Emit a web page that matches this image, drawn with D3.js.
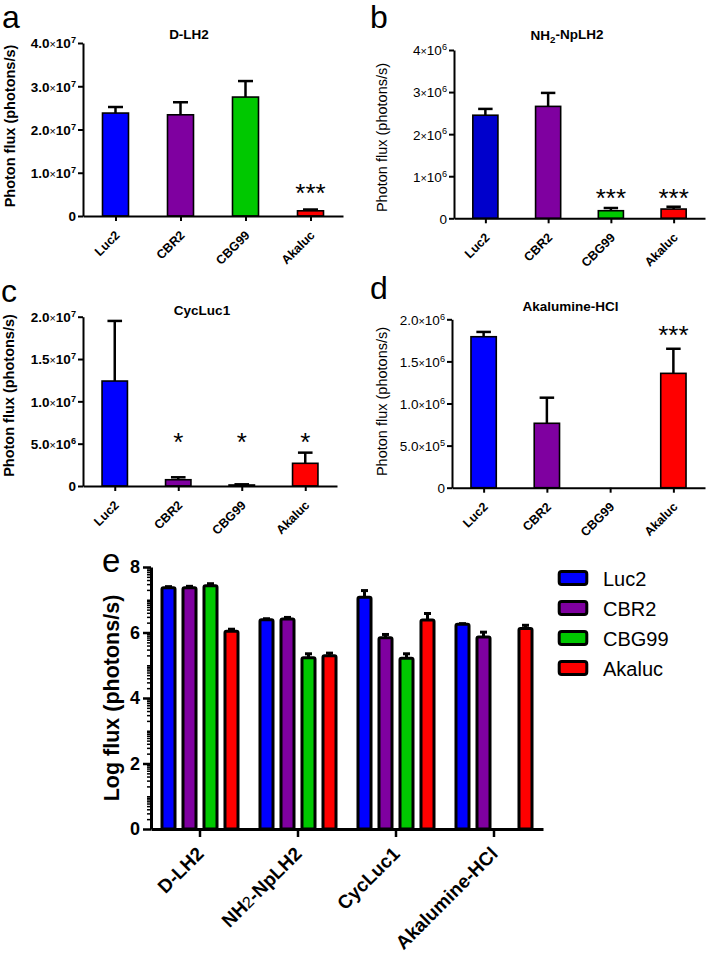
<!DOCTYPE html>
<html><head><meta charset="utf-8">
<script src="https://cdn.jsdelivr.net/npm/d3@7"></script>
<style>
body{margin:0;background:#fff}
svg{display:block}
text{font-family:"Liberation Sans", Arial, Helvetica, sans-serif; fill:#000}
</style>
</head><body>
<svg id="chart" width="709" height="956"></svg>
<script>
// ---------------- DATA ----------------
const categories = ["Luc2", "CBR2", "CBG99", "Akaluc"];

// Panel a: D-LH2
const dlh2Values = [2.38e7, 2.34e7, 2.75e7, 0.12e7];
const dlh2Errors = [0.14e7, 0.29e7, 0.37e7, 0.03e7];
const dlh2Stars = ["", "", "", "***"];
const dlh2StarLevel = 0.65e7;
const dlh2Ticks = [0, 1e7, 2e7, 3e7, 4e7];
const dlh2TickLabels = ["0", "1.0×10^7", "2.0×10^7", "3.0×10^7", "4.0×10^7"];

// Panel b: NH2-NpLH2
const nplh2Values = [2.45e6, 2.66e6, 0.18e6, 0.22e6];
const nplh2Errors = [0.15e6, 0.32e6, 0.065e6, 0.055e6];
const nplh2Stars = ["", "", "***", "***"];
const nplh2StarLevel = 0.6e6;
const nplh2Ticks = [0, 1e6, 2e6, 3e6, 4e6];
const nplh2TickLabels = ["0", "1×10^6", "2×10^6", "3×10^6", "4×10^6"];

// Panel c: CycLuc1
const cycValues = [12.4e6, 0.74e6, 0.12e6, 2.68e6];
const cycErrors = [7.1e6, 0.29e6, 0.08e6, 1.26e6];
const cycStars = ["", "*", "*", "*"];
const cycStarLevel = 5.83e6;
const cycTicks = [0, 5e6, 1e7, 1.5e7, 2e7];
const cycTickLabels = ["0", "5.0×10^6", "1.0×10^7", "1.5×10^7", "2.0×10^7"];

// Panel d: Akalumine-HCl
const akaValues = [1.793e6, 0.765e6, 0, 1.358e6];
const akaErrors = [0.057e6, 0.304e6, 0, 0.292e6];
const akaStars = ["", "", "", "***"];
const akaStarLevel = 1.873e6;
const akaTicks = [0, 5e5, 1e6, 1.5e6, 2e6];
const akaTickLabels = ["0", "5.0×10^5", "1.0×10^6", "1.5×10^6", "2.0×10^6"];

// Panel e: log flux
const substrates = ["D-LH2", "NH2-NpLH2", "CycLuc1", "Akalumine-HCl"];
const logLuc2 = [7.37, 6.39, 7.08, 6.25];
const logLuc2Err = [0.03, 0.03, 0.2, 0.02];
const logCBR2 = [7.37, 6.41, 5.84, 5.86];
const logCBR2Err = [0.04, 0.05, 0.1, 0.15];
const logCBG99 = [7.43, 5.23, 5.21, null];
const logCBG99Err = [0.06, 0.12, 0.14, null];
const logAkaluc = [6.04, 5.29, 6.38, 6.12];
const logAkalucErr = [0.06, 0.08, 0.2, 0.1];
const logTicks = [0, 2, 4, 6, 8];

// ---------------- STYLE ----------------
const colorMap = {Luc2: "#0000ff", CBR2: "#7f00a0", CBG99: "#00c800", Akaluc: "#ff0000"};
const svg = d3.select("#chart");

function addTickLabel(sel, str) {
  const parts = str.split("^");
  if (parts.length === 1) { sel.text(str); return; }
  const [mant, rest] = parts[0].split("×");
  sel.append("tspan").text(mant);
  sel.append("tspan").attr("font-size", "0.8em").attr("font-weight", "normal").text("×");
  sel.append("tspan").text(rest);
  sel.append("tspan").attr("font-size", "0.68em").attr("dy", "-0.55em").text(parts[1]);
}

function drawPanel(cfg) {
  const g = svg.append("g");
  const x = d3.scalePoint().domain(categories).range([cfg.x0, cfg.x1]).padding(0.5);
  const y = d3.scaleLinear().domain([0, cfg.yMax]).range([cfg.y0, cfg.yTop]);
  const bw = x.step() * 0.4;
  const capW = x.step() * 0.23;
  const rows = categories.map((c, i) => ({c, v: cfg.values[i], e: cfg.errors[i], s: cfg.stars[i]}));
  const colors = Object.assign({}, colorMap, cfg.colorOverride || {});

  // error bars
  g.selectAll("line.err").data(rows.filter(d => d.v > 0)).join("line")
    .attr("x1", d => x(d.c)).attr("x2", d => x(d.c))
    .attr("y1", d => y(d.v)).attr("y2", d => y(d.v + d.e))
    .attr("stroke", "#000").attr("stroke-width", 2.5);
  g.selectAll("line.cap").data(rows.filter(d => d.v > 0)).join("line")
    .attr("x1", d => x(d.c) - capW / 2).attr("x2", d => x(d.c) + capW / 2)
    .attr("y1", d => y(d.v + d.e)).attr("y2", d => y(d.v + d.e))
    .attr("stroke", "#000").attr("stroke-width", 2.5);
  // bars
  g.selectAll("rect.bar").data(rows.filter(d => d.v > 0)).join("rect")
    .attr("x", d => x(d.c) - bw / 2).attr("width", bw)
    .attr("y", d => y(d.v)).attr("height", d => y(0) - y(d.v))
    .attr("fill", d => colors[d.c]).attr("stroke", "#000").attr("stroke-width", 1.6);

  // axes
  const ya = g.append("g").attr("transform", `translate(${cfg.x0},0)`)
    .call(d3.axisLeft(y).tickValues(cfg.ticks).tickSize(5).tickSizeOuter(0).tickFormat(() => ""));
  ya.select(".domain").attr("stroke-width", 2);
  ya.selectAll(".tick line").attr("stroke-width", 2);
  ya.selectAll(".tick").each(function(d, i) {
    const t = d3.select(this).append("text")
      .attr("x", -7).attr("dy", "0.36em").attr("text-anchor", "end")
      .attr("font-size", 13.5).attr("font-weight", cfg.tickBold ? "bold" : "normal")
      .attr("fill", "#000");
    addTickLabel(t, cfg.tickLabels[i]);
  });
  const xa = g.append("g").attr("transform", `translate(0,${cfg.y0})`)
    .call(d3.axisBottom(x).tickSize(5).tickSizeOuter(0).tickFormat(() => ""));
  xa.select(".domain").attr("stroke-width", 2);
  xa.selectAll(".tick line").attr("stroke-width", 2);

  // x labels
  g.selectAll("text.xl").data(categories).join("text")
    .attr("transform", d => `translate(${x(d) + 5},${cfg.y0 + 20}) rotate(-45)`)
    .attr("text-anchor", "end").attr("font-size", 12.5).attr("font-weight", "bold")
    .text(d => d);

  // stars
  g.selectAll("text.star").data(rows.filter(d => d.s)).join("text")
    .attr("x", d => x(d.c)).attr("y", y(cfg.starLevel) + 14)
    .attr("text-anchor", "middle").attr("font-size", 26)
    .text(d => d.s);

  // y title
  g.append("text")
    .attr("transform", `translate(${cfg.labelX},${cfg.labelY}) rotate(-90)`)
    .attr("text-anchor", "middle").attr("dominant-baseline", "central")
    .attr("font-size", 14.5).attr("font-weight", cfg.labelBold ? "bold" : "normal")
    .text("Photon flux (photons/s)");

  // title
  const tt = g.append("text").attr("x", cfg.titleX).attr("y", cfg.titleY)
    .attr("text-anchor", "middle").attr("font-size", 13.5).attr("font-weight", "bold");
  if (cfg.titleParts) {
    cfg.titleParts.forEach(p => {
      const ts = tt.append("tspan").text(p.t);
      if (p.sub) ts.attr("font-size", "0.72em").attr("dy", "0.3em");
      if (p.after) ts.attr("dy", "-0.3em");
    });
  } else tt.text(cfg.title);

  // panel letter
  g.append("text").attr("x", cfg.letterX).attr("y", cfg.letterY)
    .attr("font-size", 32).text(cfg.letter);
}

drawPanel({letter: "a", letterX: 2, letterY: 28, title: "D-LH2", titleX: 189, titleY: 39,
  x0: 83, x1: 343, y0: 216, yTop: 43, yMax: 4e7,
  values: dlh2Values, errors: dlh2Errors, stars: dlh2Stars, starLevel: dlh2StarLevel,
  ticks: dlh2Ticks, tickLabels: dlh2TickLabels, tickBold: true, labelX: 10, labelY: 126, labelBold: true});

drawPanel({letter: "b", letterX: 370, letterY: 28,
  titleParts: [{t: "NH"}, {t: "2", sub: true}, {t: "-NpLH2", after: true}], titleX: 567, titleY: 40,
  x0: 454, x1: 705, y0: 218.3, yTop: 50, yMax: 4e6,
  values: nplh2Values, errors: nplh2Errors, stars: nplh2Stars, starLevel: nplh2StarLevel,
  ticks: nplh2Ticks, tickLabels: nplh2TickLabels, tickBold: false, labelX: 381.5, labelY: 137.5, labelBold: false,
  colorOverride: {Luc2: "#0000cc"}});

drawPanel({letter: "c", letterX: 1, letterY: 302, title: "CycLuc1", titleX: 202, titleY: 315,
  x0: 83, x1: 337, y0: 486, yTop: 316.7, yMax: 2e7,
  values: cycValues, errors: cycErrors, stars: cycStars, starLevel: cycStarLevel,
  ticks: cycTicks, tickLabels: cycTickLabels, tickBold: true, labelX: 9, labelY: 395.5, labelBold: true});

drawPanel({letter: "d", letterX: 370, letterY: 299, title: "Akalumine-HCl", titleX: 570.5, titleY: 311,
  x0: 452, x1: 705, y0: 487.7, yTop: 319.3, yMax: 2e6,
  values: akaValues, errors: akaErrors, stars: akaStars, starLevel: akaStarLevel,
  ticks: akaTicks, tickLabels: akaTickLabels, tickBold: false, labelX: 381.5, labelY: 401.5, labelBold: false});

// ---------------- PANEL e ----------------
(function() {
  const g = svg.append("g");
  const X0 = 151, X1 = 543, Y0 = 829, YT = 567;
  const xg = d3.scaleBand().domain(substrates).range([X0, X1]);
  const xs = d3.scaleBand().domain(categories).range([-42, 42]).paddingInner(0.38).paddingOuter(0.19);
  const y = d3.scaleLinear().domain([0, 8]).range([Y0, YT]);
  const series = {Luc2: [logLuc2, logLuc2Err], CBR2: [logCBR2, logCBR2Err], CBG99: [logCBG99, logCBG99Err], Akaluc: [logAkaluc, logAkalucErr]};
  const rows = [];
  substrates.forEach((s, i) => categories.forEach(c => {
    const v = series[c][0][i];
    if (v != null) rows.push({s, c, v, e: series[c][1][i]});
  }));
  const cx = d => xg(d.s) + xg.bandwidth() / 2 + xs(d.c) + xs.bandwidth() / 2;

  g.selectAll("line.err").data(rows).join("line")
    .attr("x1", cx).attr("x2", cx).attr("y1", d => y(d.v)).attr("y2", d => y(d.v + d.e))
    .attr("stroke", "#000").attr("stroke-width", 3);
  g.selectAll("line.cap").data(rows).join("line")
    .attr("x1", d => cx(d) - 3.5).attr("x2", d => cx(d) + 3.5)
    .attr("y1", d => y(d.v + d.e)).attr("y2", d => y(d.v + d.e))
    .attr("stroke", "#000").attr("stroke-width", 3);
  g.selectAll("rect.bar").data(rows).join("rect")
    .attr("x", d => cx(d) - xs.bandwidth() / 2).attr("width", xs.bandwidth())
    .attr("y", d => y(d.v)).attr("height", d => Y0 - y(d.v))
    .attr("rx", 1.5)
    .attr("fill", d => colorMap[d.c]).attr("stroke", "#000").attr("stroke-width", 3)
    .attr("stroke-linejoin", "round");

  // minor log ticks
  const minor = [];
  for (let n = 0; n < 8; n++) for (let k = 2; k <= 10; k++) {
    const t = n + Math.log10(k);
    if (Math.abs(t - Math.round(t)) < 1e-9 && Math.round(t) % 2 === 0) continue;
    minor.push(t);
  }
  const ym = g.append("g").attr("transform", `translate(${X0},0)`)
    .call(d3.axisLeft(y).tickValues(minor).tickSize(4).tickSizeOuter(0).tickFormat(() => ""));
  ym.select(".domain").remove();
  ym.selectAll(".tick line").attr("stroke-width", 1.5);

  const ya = g.append("g").attr("transform", `translate(${X0},0)`)
    .call(d3.axisLeft(y).tickValues(logTicks).tickSize(8).tickSizeOuter(0).tickFormat(d3.format("d")));
  ya.select(".domain").attr("stroke-width", 3);
  ya.selectAll(".tick line").attr("stroke-width", 2.5);
  ya.selectAll(".tick text").attr("x", -11).attr("font-size", 18).attr("font-weight", "bold")
    .attr("fill", "#000").attr("font-family", "Liberation Sans, Arial, sans-serif");

  const xa = g.append("g").attr("transform", `translate(0,${Y0})`)
    .call(d3.axisBottom(xg).tickSize(8).tickSizeOuter(0).tickFormat(() => ""));
  xa.select(".domain").attr("stroke-width", 3);
  xa.selectAll(".tick line").attr("stroke-width", 2.5);

  // x labels
  g.selectAll("text.xl").data(substrates).join("text")
    .attr("transform", d => `translate(${xg(d) + xg.bandwidth() / 2 + 5},${Y0 + 26}) rotate(-45)`)
    .attr("text-anchor", "end").attr("font-size", 19).attr("font-weight", "bold")
    .each(function(d) {
      const t = d3.select(this);
      if (d === "NH2-NpLH2") {
        t.append("tspan").text("NH");
        t.append("tspan").attr("font-weight", "normal").attr("font-size", "0.85em").text("2");
        t.append("tspan").text("-NpLH2");
      } else t.text(d);
    });

  g.append("text")
    .attr("transform", `translate(112,698) rotate(-90)`)
    .attr("text-anchor", "middle").attr("dominant-baseline", "central")
    .attr("font-size", 21.5).attr("font-weight", "bold")
    .text("Log flux (photons/s)");

  // legend
  const lg = g.append("g");
  const lrows = lg.selectAll("g").data(categories).join("g")
    .attr("transform", (d, i) => `translate(0,${578 + i * 30})`);
  lrows.append("rect").attr("x", 559.2).attr("y", -6.5).attr("width", 27.6).attr("height", 13)
    .attr("rx", 2.5).attr("fill", d => colorMap[d]).attr("stroke", "#000").attr("stroke-width", 3);
  lrows.append("text").attr("x", 603).attr("y", 8).attr("font-size", 20).text(d => d);

  g.append("text").attr("x", 102).attr("y", 572).attr("font-size", 33).text("e");
})();
</script>
</body></html>
